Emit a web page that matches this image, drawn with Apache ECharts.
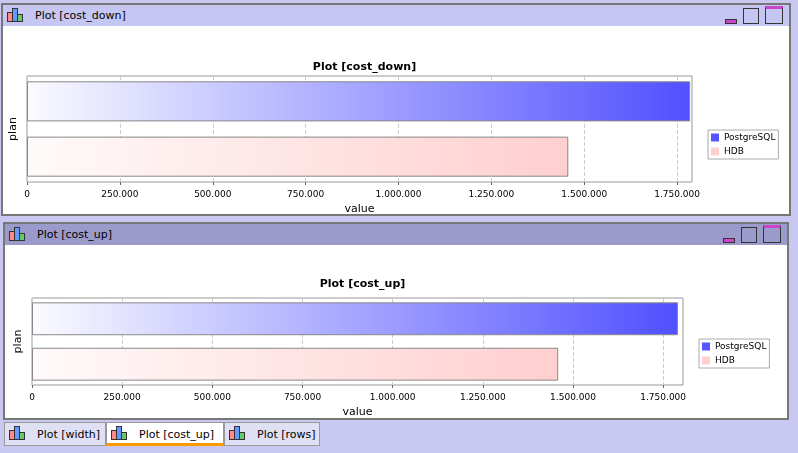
<!DOCTYPE html><html><head><meta charset="utf-8">
<script src="https://cdn.jsdelivr.net/npm/echarts@6/dist/echarts.min.js"></script>
<style>
body{margin:0;width:798px;height:453px;background:#c8c8f0;position:relative;overflow:hidden;font-family:"DejaVu Sans",sans-serif;font-size:11px}
.panel{position:absolute;background:#fff;border:2px solid #777;box-sizing:border-box}
.bar{position:absolute;left:0;right:0;height:21px;top:0;padding-left:32px;line-height:21px;color:#000}
.ic{position:absolute;left:4px;top:3px;width:16px;height:14px}
.ic i{position:absolute;bottom:0;width:4px;border:1px solid #333}
.btns{position:absolute;right:6px;top:2px}
.tabs{position:absolute;left:2px;top:422px;height:26px}
.tab{position:absolute;top:0;height:24px;line-height:24px;padding-left:32px;background:#e0e0f4;border:1px solid #999;box-sizing:border-box}
</style></head><body>
<div class="panel" style="left:1px;top:3px;width:790px;height:213px">
 <div class="bar" style="background:#c6c6f2"><span class="ic"><i style="left:0;height:8px;background:#f88"></i><i style="left:5px;height:12px;background:#69f"></i><i style="left:10px;height:6px;background:#6c6"></i></span>Plot [cost_down]
 <span class="btns" style="top:1px;font-size:0"><span style="display:inline-block;width:10px;height:3px;background:#c4c;border:1px solid #333;margin-right:6px"></span><span style="display:inline-block;width:14px;height:14px;border:1px solid #333;margin-right:6px"></span><span style="display:inline-block;width:16px;height:14px;border:1px solid #333;border-top:3px solid #c4c"></span></span></div>
 <div id="c1" style="position:absolute;left:2px;top:22px;width:784px;height:187px"></div>
</div>
<div class="panel" style="left:3px;top:222px;width:786px;height:198px">
 <div class="bar" style="background:#9a9acb"><span class="ic"><i style="left:0;height:8px;background:#f88"></i><i style="left:5px;height:12px;background:#69f"></i><i style="left:10px;height:6px;background:#6c6"></i></span>Plot [cost_up]
 <span class="btns" style="top:1px;font-size:0"><span style="display:inline-block;width:10px;height:3px;background:#c4c;border:1px solid #333;margin-right:6px"></span><span style="display:inline-block;width:14px;height:14px;border:1px solid #333;margin-right:6px"></span><span style="display:inline-block;width:16px;height:14px;border:1px solid #333;border-top:3px solid #c4c"></span></span></div>
 <div id="c2" style="position:absolute;left:1px;top:22px;width:780px;height:172px"></div>
</div>
<div class="tabs">
 <div class="tab" style="left:2px;width:102px"><span class="ic"><i style="left:0;height:8px;background:#f88"></i><i style="left:5px;height:12px;background:#69f"></i><i style="left:10px;height:6px;background:#6c6"></i></span>Plot [width]</div>
 <div class="tab" style="left:104px;width:118px;background:#fff;border-bottom:3px solid #f90"><span class="ic"><i style="left:0;height:8px;background:#f88"></i><i style="left:5px;height:12px;background:#69f"></i><i style="left:10px;height:6px;background:#6c6"></i></span>Plot [cost_up]</div>
 <div class="tab" style="left:222px;width:96px"><span class="ic"><i style="left:0;height:8px;background:#f88"></i><i style="left:5px;height:12px;background:#69f"></i><i style="left:10px;height:6px;background:#6c6"></i></span>Plot [rows]</div>
</div>
<script>
const seriesNames=['PostgreSQL','HDB'];
const costDown=[1785000,1457000];
const costUp=[1791000,1459000];
const categories=['plan'];
const tickInterval=250000;
function fmt(v){return v===0?'0':String(v).replace(/\B(?=(\d{3})+(?!\d))/g,'.');}
function grad(a,b){return new echarts.graphic.LinearGradient(0,0,1,0,[{offset:0,color:a},{offset:1,color:b}]);}
function opt(title,vals,max,g,titleTop,legTop){
 const cols=[grad('#fbfbff','#5050ff'),grad('#fffafa','#ffcfcf')];
 const solid=['#5555ff','#ffd0d0'];
 const ser=[0,1].map(i=>({name:seriesNames[i],type:'bar',data:[vals[i]],barGap:'38%',barCategoryGap:'10%',
   itemStyle:{color:cols[i],borderColor:'#888',borderWidth:1},emphasis:{disabled:true}}));
 return {animation:false,
  title:{text:title,left:g.left+g.width/2,textAlign:'center',top:titleTop,textStyle:{fontSize:11,fontWeight:'bold',color:'#000',fontFamily:'DejaVu Sans'}},
  legend:{data:seriesNames.map((n,i)=>({name:n,itemStyle:{color:solid[i],borderWidth:0}})),orient:'vertical',left:g.left+g.width+16,top:legTop,itemWidth:8,itemHeight:8,itemGap:5,icon:'rect',
   borderColor:'#aaa',borderWidth:1,padding:[3,3,3,3],textStyle:{fontSize:9,color:'#000',fontFamily:'DejaVu Sans'}},
  grid:{left:g.left,top:g.top,width:g.width,height:g.height,show:true,borderColor:'#999',borderWidth:1,outerBoundsMode:'none',containLabel:false},
  xAxis:{type:'value',min:0,max:max,interval:tickInterval,name:'value',nameLocation:'middle',nameGap:20,
   nameTextStyle:{fontSize:11,color:'#000',fontFamily:'DejaVu Sans'},
   axisLabel:{formatter:fmt,fontSize:9,color:'#000',fontFamily:'DejaVu Sans',showMaxLabel:false},
   axisLine:{show:false},axisTick:{show:true,length:3,lineStyle:{color:'#666'}},
   splitLine:{lineStyle:{type:'dashed',color:'#ccc'}}},
  yAxis:{type:'category',data:categories,inverse:true,name:'plan',nameLocation:'middle',nameGap:8,nameRotate:90,
   nameTextStyle:{fontSize:11,color:'#000',fontFamily:'DejaVu Sans'},axisLabel:{show:false},axisTick:{show:false},axisLine:{show:false}},
  series:ser};
}
echarts.init(document.getElementById('c1')).setOption(opt('Plot [cost_down]',costDown,1790000,{left:22,top:49,width:665,height:106},30,103));
echarts.init(document.getElementById('c2')).setOption(opt('Plot [cost_up]',costUp,1805000,{left:26,top:52,width:651,height:87},28,93));
</script></body></html>
